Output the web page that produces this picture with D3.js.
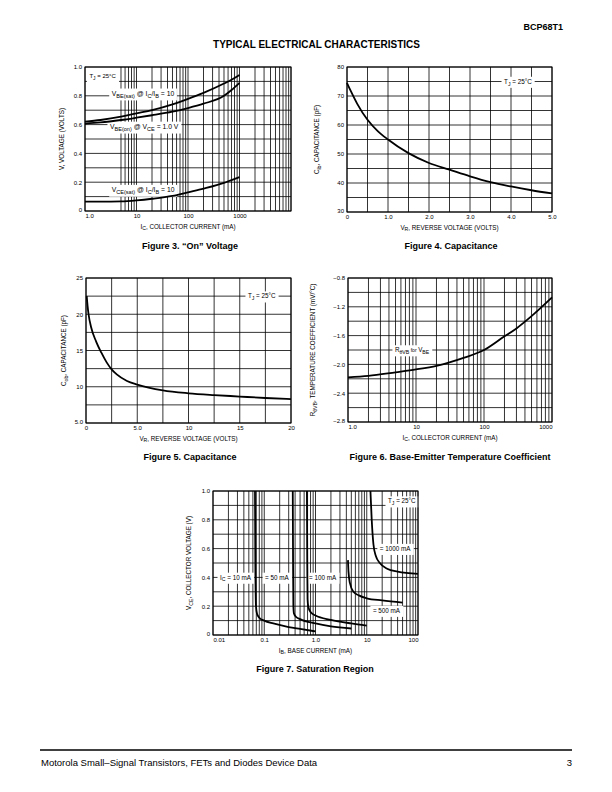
<!DOCTYPE html>
<html><head><meta charset="utf-8">
<script src="https://cdn.jsdelivr.net/npm/d3@7"></script>
<style>
body{margin:0;background:#fff}
svg{display:block}
text{font-family:"Liberation Sans",Arial,Helvetica,sans-serif;fill:#000}
</style>
</head><body>
<svg id="c" width="612" height="792"></svg>
<script>
// ---------- DATA ----------
// Figure 3: "On" Voltage
const fig3Current = [1, 2, 5, 10, 20, 50, 100, 200, 500, 700, 1000];
const fig3VbeSat  = [0.62, 0.632, 0.655, 0.678, 0.70, 0.74, 0.778, 0.82, 0.885, 0.912, 0.945];
const fig3VbeOn   = [0.607, 0.615, 0.632, 0.648, 0.665, 0.69, 0.715, 0.745, 0.80, 0.84, 0.89];
const fig3VceSat  = [0.065, 0.065, 0.067, 0.074, 0.085, 0.105, 0.13, 0.155, 0.195, 0.215, 0.235];
const fig3XTicks = [1, 10, 100, 1000];
const fig3XTickLabels = ["1.0", "10", "100", "1000"];
const fig3YTicks = [0, 0.2, 0.4, 0.6, 0.8, 1.0];
const fig3YTickLabels = ["0", "0.2", "0.4", "0.6", "0.8", "1.0"];

// Figure 4: Capacitance Cib
const fig4Voltage = [0, 0.1, 0.25, 0.5, 0.75, 1.0, 1.5, 2.0, 2.5, 3.0, 3.5, 4.0, 4.5, 5.0];
const fig4Cib     = [74.5, 71.5, 67.3, 61.8, 57.9, 55.0, 50.3, 46.9, 44.6, 42.3, 40.3, 38.8, 37.5, 36.4];
const fig4XTicks = [0, 1, 2, 3, 4, 5];
const fig4XTickLabels = ["0", "1.0", "2.0", "3.0", "4.0", "5.0"];
const fig4YTicks = [30, 40, 50, 60, 70, 80];
const fig4YTickLabels = ["30", "40", "50", "60", "70", "80"];

// Figure 5: Capacitance Cob
const fig5Voltage = [0.07, 0.15, 0.25, 0.5, 1.0, 1.5, 2.0, 2.5, 3.0, 4.0, 5.0, 7.5, 10, 12.5, 15, 17.5, 20];
const fig5Cob     = [22.5, 21.2, 20.0, 18.2, 16.2, 14.7, 13.4, 12.4, 11.7, 10.8, 10.3, 9.5, 9.1, 8.85, 8.65, 8.45, 8.3];
const fig5XTicks = [0, 5, 10, 15, 20];
const fig5XTickLabels = ["0", "5.0", "10", "15", "20"];
const fig5YTicks = [5, 10, 15, 20, 25];
const fig5YTickLabels = ["5.0", "10", "15", "20", "25"];

// Figure 6: Base-Emitter Temperature Coefficient
const fig6Current = [1, 2, 5, 10, 20, 50, 100, 200, 300, 500, 1000];
const fig6Coeff   = [-2.18, -2.16, -2.11, -2.07, -2.02, -1.91, -1.80, -1.61, -1.50, -1.33, -1.07];
const fig6XTicks = [1, 10, 100, 1000];
const fig6XTickLabels = ["1.0", "10", "100", "1000"];
const fig6YTicks = [-2.8, -2.4, -2.0, -1.6, -1.2, -0.8];
const fig6YTickLabels = ["\u22122.8", "\u22122.4", "\u22122.0", "\u22121.6", "\u22121.2", "\u22120.8"];

// Figure 7: Saturation Region
const fig7Ib10   = [0.066, 0.067, 0.069, 0.072, 0.08, 0.1, 0.15, 0.3, 0.5, 1.0];
const fig7Vce10  = [1.0, 0.5, 0.2, 0.15, 0.12, 0.1, 0.08, 0.055, 0.042, 0.025];
const fig7Ib50   = [0.36, 0.365, 0.37, 0.38, 0.42, 0.5, 1.0, 2.0, 5.0];
const fig7Vce50  = [1.0, 0.5, 0.2, 0.15, 0.125, 0.11, 0.08, 0.06, 0.045];
const fig7Ib100  = [0.68, 0.69, 0.7, 0.72, 0.8, 1.0, 2.0, 5.0, 10];
const fig7Vce100 = [1.0, 0.5, 0.25, 0.2, 0.16, 0.135, 0.105, 0.08, 0.065];
const fig7Ib500  = [4.3, 4.4, 4.7, 5.5, 7, 10, 20, 50];
const fig7Vce500 = [0.52, 0.44, 0.36, 0.3, 0.275, 0.255, 0.24, 0.225];
const fig7Ib1000  = [11.8, 12.5, 13.5, 15, 18, 25, 40, 100];
const fig7Vce1000 = [1.0, 0.8, 0.63, 0.55, 0.5, 0.46, 0.44, 0.425];
const fig7XTicks = [0.01, 0.1, 1, 10, 100];
const fig7XTickLabels = ["0.01", "0.1", "1.0", "10", "100"];
const fig7YTicks = [0, 0.2, 0.4, 0.6, 0.8, 1.0];
const fig7YTickLabels = ["0", "0.2", "0.4", "0.6", "0.8", "1.0"];

// ---------- HELPERS ----------
const FONT = '"Liberation Sans",Arial,Helvetica,sans-serif';
const svg = d3.select('#c');

function logGrid(lo, hi, skipFirst) {
  const out = [];
  const e0 = Math.round(Math.log10(lo)), e1 = Math.round(Math.log10(hi));
  for (let e = e0; e < e1; e++) {
    for (let k = 1; k <= 9; k++) {
      if (skipFirst && e === e0 && k > 1 && k < 5) continue;
      out.push(k * Math.pow(10, e));
    }
  }
  out.push(hi);
  return out;
}

function richText(t, segs, size) {
  let shifted = false;
  segs.forEach(s => {
    const sp = t.append('tspan').text(s[0]);
    if (s[1] === 'sub') {
      sp.attr('font-size', size * 0.82);
      if (!shifted) { sp.attr('dy', size * 0.3); shifted = true; }
    } else {
      sp.attr('font-size', s[1] === 'small' ? size * 0.82 : size);
      if (shifted) { sp.attr('dy', -size * 0.3); shifted = false; }
    }
  });
}

const TICK = 6, TITLE = 6.3;

function panel(c) {
  const g = svg.append('g');
  const x = (c.xLog ? d3.scaleLog() : d3.scaleLinear()).domain(c.xDomain).range([c.left, c.right]);
  const y = d3.scaleLinear().domain(c.yDomain).range([c.bottom, c.top]);

  g.selectAll(null).data(c.xGrid).join('line')
    .attr('x1', d => x(d)).attr('x2', d => x(d)).attr('y1', c.top).attr('y2', c.bottom)
    .attr('stroke', '#000').attr('stroke-width', 0.8);
  g.selectAll(null).data(c.yGrid).join('line')
    .attr('y1', d => y(d)).attr('y2', d => y(d)).attr('x1', c.left).attr('x2', c.right)
    .attr('stroke', '#000').attr('stroke-width', 0.8);

  // in-plot labels with white boxes
  (c.labels || []).forEach(l => {
    const sz = l.size || 6.3;
    const t = g.append('text').attr('x', x(l.x)).attr('y', y(l.y) + sz * 0.35)
      .attr('text-anchor', l.anchor || 'start');
    richText(t, l.segs, sz);
    const b = t.node().getBBox();
    g.insert('rect', () => t.node())
      .attr('x', b.x - 2.5).attr('y', y(l.y) - sz * 0.75).attr('width', b.width + 5).attr('height', sz * 1.6 + 1)
      .attr('fill', '#fff');
  });

  g.append('rect').attr('x', c.left).attr('y', c.top)
    .attr('width', c.right - c.left).attr('height', c.bottom - c.top)
    .attr('fill', 'none').attr('stroke', '#000').attr('stroke-width', 1);

  const line = d3.line().x(d => x(d[0])).y(d => y(d[1])).curve(d3.curveMonotoneX);
  c.curves.forEach(cv => {
    g.append('path').datum(d3.zip(cv[0], cv[1])).attr('d', line)
      .attr('fill', 'none').attr('stroke', '#000').attr('stroke-width', 1.8);
  });

  const ax = d3.axisBottom(x).tickValues(c.xTicks).tickFormat((d, i) => c.xTickLabels[i])
    .tickSize(0).tickPadding(2.5);
  const gx = g.append('g').attr('transform', `translate(0,${c.bottom})`).call(ax)
    .attr('font-size', TICK).attr('font-family', FONT)
    .call(s => s.select('.domain').remove());
  const xt = gx.selectAll('.tick text');
  const n = xt.size();
  xt.each(function (d, i) {
    if (i === 0 && c.edgeStart) d3.select(this).attr('text-anchor', 'start');
    if (i === n - 1 && c.edgeEnd) d3.select(this).attr('text-anchor', 'end');
  });

  const ay = d3.axisLeft(y).tickValues(c.yTicks).tickFormat((d, i) => c.yTickLabels[i])
    .tickSize(0).tickPadding(3);
  const gy = g.append('g').attr('transform', `translate(${c.left},0)`).call(ay)
    .attr('font-size', TICK).attr('font-family', FONT)
    .call(s => s.select('.domain').remove());
  gy.selectAll('.tick text').filter((d, i) => i === 0).attr('dy', '0.1em');

  const xtl = g.append('text').attr('x', (c.left + c.right) / 2).attr('y', c.bottom + 17.5)
    .attr('text-anchor', 'middle');
  richText(xtl, c.xTitle, TITLE);
  const cy = (c.top + c.bottom) / 2;
  const ytl = g.append('text').attr('transform', `translate(${c.yTitleX},${cy}) rotate(-90)`)
    .attr('text-anchor', 'middle');
  richText(ytl, c.yTitle, TITLE);

  g.append('text').attr('x', c.captionX).attr('y', c.captionY).attr('text-anchor', 'middle')
    .attr('font-size', 9).attr('font-weight', 'bold').text(c.caption);
}

// ---------- PAGE TEXT ----------
svg.append('text').attr('x', 563).attr('y', 30).attr('text-anchor', 'end')
  .attr('font-size', 9).attr('font-weight', 'bold').text('BCP68T1');
svg.append('text').attr('x', 316.5).attr('y', 48).attr('text-anchor', 'middle')
  .attr('font-size', 10).attr('font-weight', 'bold').text('TYPICAL ELECTRICAL CHARACTERISTICS');
svg.append('line').attr('x1', 40).attr('x2', 572).attr('y1', 750).attr('y2', 750)
  .attr('stroke', '#000').attr('stroke-width', 1.5);
svg.append('text').attr('x', 41).attr('y', 766).attr('font-size', 9.5)
  .text('Motorola Small\u2013Signal Transistors, FETs and Diodes Device Data');
svg.append('text').attr('x', 572).attr('y', 766).attr('text-anchor', 'end').attr('font-size', 9.5).text('3');

const TJ = [["T"], ["J", "sub"], [" = 25\u00B0C"]];

// ---------- FIGURE 3 ----------
panel({
  left: 85, right: 291, top: 67, bottom: 211,
  xLog: true, xDomain: [1, 10000], yDomain: [0, 1],
  xGrid: logGrid(1, 10000, true), yGrid: d3.range(0, 1.01, 0.1),
  xTicks: fig3XTicks, xTickLabels: fig3XTickLabels, yTicks: fig3YTicks, yTickLabels: fig3YTickLabels,
  edgeStart: true,
  curves: [[fig3Current, fig3VbeSat], [fig3Current, fig3VbeOn], [fig3Current, fig3VceSat]],
  labels: [
    { segs: TJ, x: 1.22, y: 0.935, size: 6 },
    { segs: [["V"], ["BE(sat)", "sub"], [" @ I"], ["C", "sub"], ["/I"], ["B", "sub"], [" = 10"]], x: 3.3, y: 0.815, size: 6.8 },
    { segs: [["V"], ["BE(on)", "sub"], [" @ V"], ["CE", "sub"], [" = 1.0 V"]], x: 3.05, y: 0.585, size: 6.8 },
    { segs: [["V"], ["CE(sat)", "sub"], [" @ I"], ["C", "sub"], ["/I"], ["B", "sub"], [" = 10"]], x: 3.3, y: 0.146, size: 6.8 }
  ],
  xTitle: [["I"], ["C", "sub"], [", COLLECTOR CURRENT (mA)"]],
  yTitle: [["V, VOLTAGE (VOLTS)"]], yTitleX: 64,
  caption: "Figure 3. \u201COn\u201D Voltage", captionX: 190, captionY: 249
});

// ---------- FIGURE 4 ----------
panel({
  left: 347, right: 552, top: 67, bottom: 212,
  xLog: false, xDomain: [0, 5], yDomain: [30, 80],
  xGrid: d3.range(0, 5.01, 0.5), yGrid: d3.range(30, 80.1, 5),
  xTicks: fig4XTicks, xTickLabels: fig4XTickLabels, yTicks: fig4YTicks, yTickLabels: fig4YTickLabels,
  curves: [[fig4Voltage, fig4Cib]],
  labels: [{ segs: TJ, x: 3.83, y: 75 }],
  xTitle: [["V"], ["R", "sub"], [", REVERSE VOLTAGE (VOLTS)"]],
  yTitle: [["C"], ["ib", "sub"], [", CAPACITANCE (pF)"]], yTitleX: 319,
  caption: "Figure 4. Capacitance", captionX: 451, captionY: 249
});

// ---------- FIGURE 5 ----------
panel({
  left: 86, right: 291, top: 278, bottom: 423,
  xLog: false, xDomain: [0, 20], yDomain: [5, 25],
  xGrid: d3.range(0, 20.01, 2.5), yGrid: d3.range(5, 25.01, 2.5),
  xTicks: fig5XTicks, xTickLabels: fig5XTickLabels, yTicks: fig5YTicks, yTickLabels: fig5YTickLabels,
  curves: [[fig5Voltage, fig5Cob]],
  labels: [{ segs: TJ, x: 15.8, y: 22.5 }],
  xTitle: [["V"], ["R", "sub"], [", REVERSE VOLTAGE (VOLTS)"]],
  yTitle: [["C"], ["ob", "sub"], [", CAPACITANCE (pF)"]], yTitleX: 66,
  caption: "Figure 5. Capacitance", captionX: 190, captionY: 460
});

// ---------- FIGURE 6 ----------
panel({
  left: 348, right: 552, top: 278, bottom: 422,
  xLog: true, xDomain: [1, 1000], yDomain: [-2.8, -0.8],
  xGrid: logGrid(1, 1000, false), yGrid: d3.range(-2.8, -0.79, 0.2),
  xTicks: fig6XTicks, xTickLabels: fig6XTickLabels, yTicks: fig6YTicks, yTickLabels: fig6YTickLabels,
  edgeStart: true, edgeEnd: true,
  curves: [[fig6Current, fig6Coeff]],
  labels: [{ segs: [["R"], ["\u03B8VB", "sub"], [" for ", "small"], ["V"], ["BE", "sub"]], x: 4.9, y: -1.8 }],
  xTitle: [["I"], ["C", "sub"], [", COLLECTOR CURRENT (mA)"]],
  yTitle: [["R"], ["\u03B8VB", "sub"], [", TEMPERATURE COEFFICIENT (mV/\u00B0C)"]], yTitleX: 315,
  caption: "Figure 6. Base-Emitter Temperature Coefficient", captionX: 450, captionY: 460
});

// ---------- FIGURE 7 ----------
panel({
  left: 213, right: 418, top: 491, bottom: 635,
  xLog: true, xDomain: [0.01, 100], yDomain: [0, 1],
  xGrid: logGrid(0.01, 100, false), yGrid: d3.range(0, 1.01, 0.1),
  xTicks: fig7XTicks, xTickLabels: fig7XTickLabels, yTicks: fig7YTicks, yTickLabels: fig7YTickLabels,
  edgeStart: true, edgeEnd: true,
  curves: [[fig7Ib10, fig7Vce10], [fig7Ib50, fig7Vce50], [fig7Ib100, fig7Vce100],
           [fig7Ib500, fig7Vce500], [fig7Ib1000, fig7Vce1000]],
  labels: [
    { segs: TJ, x: 90, y: 0.93, anchor: 'end' },
    { segs: [["I"], ["C", "sub"], [" = 10 mA"]], x: 0.0137, y: 0.4 },
    { segs: [["= 50 mA"]], x: 0.104, y: 0.4 },
    { segs: [["= 100 mA"]], x: 0.75, y: 0.4 },
    { segs: [["= 1000 mA"]], x: 18, y: 0.6 },
    { segs: [["= 500 mA"]], x: 13.2, y: 0.17 }
  ],
  xTitle: [["I"], ["B", "sub"], [", BASE CURRENT (mA)"]],
  yTitle: [["V"], ["CE", "sub"], [", COLLECTOR VOLTAGE (V)"]], yTitleX: 191,
  caption: "Figure 7. Saturation Region", captionX: 315, captionY: 672
});
</script>
</body></html>
